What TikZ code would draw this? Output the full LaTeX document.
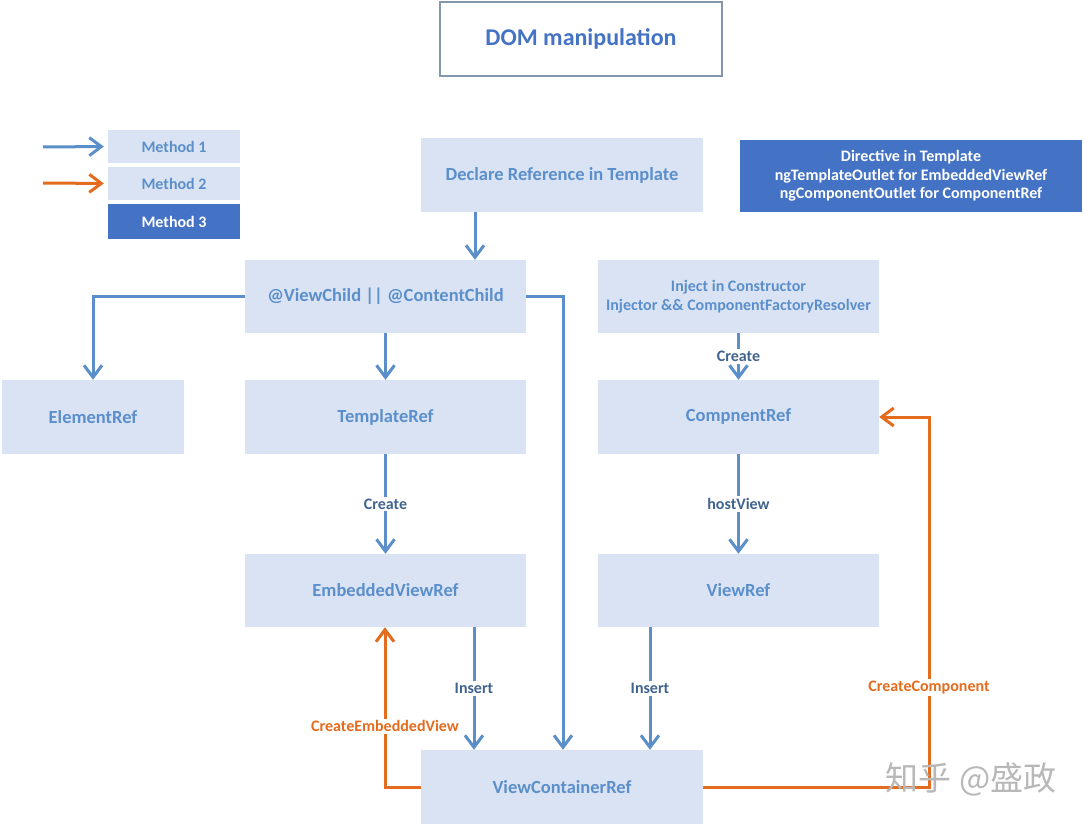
\documentclass[tikz,border=0pt]{standalone}
\usepackage{fontspec}
\setmainfont{Carlito}
\newfontfamily\cjk{Noto Sans CJK SC}
\usetikzlibrary{arrows.meta}
\definecolor{boxfill}{HTML}{DAE3F3}
\definecolor{txtblue}{HTML}{5B8FCB}
\definecolor{lbldark}{HTML}{41648F}
\definecolor{arrblue}{HTML}{5B8FC9}
\definecolor{orng}{HTML}{E46C1E}
\definecolor{darkfill}{HTML}{4472C4}
\definecolor{titlebd}{HTML}{8497B0}
\tikzset{
  box/.style={fill=boxfill, draw=none, inner sep=0pt, text=txtblue, font=\fontsize{18.5}{21}\selectfont\bfseries, align=center},
  dbox/.style={fill=darkfill, draw=none, inner sep=0pt, text=white, font=\fontsize{16}{18.5}\selectfont\bfseries, align=center},
  lbl/.style={fill=white, inner sep=2pt, text=lbldark, font=\fontsize{16}{18}\selectfont\bfseries},
  olbl/.style={fill=white, inner sep=2pt, text=orng, font=\fontsize{16}{18}\selectfont\bfseries},
  barrow/.style={draw=arrblue, line width=3pt, -{Straight Barb[length=12pt,width=18pt,line width=3pt]}},
  oarrow/.style={draw=orng, line width=3pt, -{Straight Barb[length=12pt,width=18pt,line width=3pt]}},
}
\begin{document}
\begin{tikzpicture}[x=1pt,y=-1pt]
\useasboundingbox (0,0) rectangle (1084,826);
% title
\node[draw=titlebd, line width=1.2pt, fill=white, minimum width=282pt, minimum height=74pt, inner sep=0pt, text=darkfill, font=\fontsize{24}{28}\selectfont\bfseries] (title) at (581,39) {DOM manipulation};
% legend
\node[box, minimum width=132pt, minimum height=33pt, font=\fontsize{16}{18}\selectfont\bfseries] (m1) at (174,146.5) {Method 1};
\node[box, minimum width=132pt, minimum height=33pt, font=\fontsize{16}{18}\selectfont\bfseries] (m2) at (174,183.5) {Method 2};
\node[dbox, minimum width=132pt, minimum height=35pt] (m3) at (174,221.5) {Method 3};
\coordinate (l1s) at (43,147);
\coordinate (l2s) at (43,183);
\draw[barrow, shorten >=4pt] (l1s) -- (m1.west);
\draw[oarrow, shorten >=4pt] (l2s) -- (m2.west);
% boxes
\node[box, minimum width=282pt, minimum height=74pt] (decl) at (562,175) {Declare Reference in Template};
\node[dbox, minimum width=342pt, minimum height=72pt] (dir) at (911,176) {Directive in Template\\ngTemplateOutlet for EmbeddedViewRef\\ngComponentOutlet for ComponentRef};
\node[box, minimum width=281pt, minimum height=73pt, font=\fontsize{16}{19}\selectfont\bfseries] (inj) at (738.5,296.5) {Inject in Constructor\\Injector \&\& ComponentFactoryResolver};
\node[box, minimum width=281pt, minimum height=73pt] (vc) at (385.5,296.5) {@ViewChild || @ContentChild};
\node[box, minimum width=182pt, minimum height=74pt] (el) at (93,417) {ElementRef};
\node[box, minimum width=281pt, minimum height=74pt] (tpl) at (385.5,417) {TemplateRef};
\node[box, minimum width=281pt, minimum height=74pt] (cmp) at (738.5,417) {CompnentRef};
\node[box, minimum width=281pt, minimum height=73pt] (emb) at (385.5,590.5) {EmbeddedViewRef};
\node[box, minimum width=281pt, minimum height=73pt] (vr) at (738.5,590.5) {ViewRef};
\node[box, minimum width=282pt, minimum height=74pt] (vcr) at (562,787) {ViewContainerRef};
% connectors
\draw[barrow] (decl.south -| 475,0) -- (vc.north -| 475,0);
\draw[barrow] (vc.west) -- (93,296.5) -- (el.north);
\draw[barrow] (vc.south) -- (tpl.north);
\draw[barrow] (vc.east) -- (563,296.5) -- (vcr.north -| 563,0);
\draw[barrow] (inj.south) -- node[lbl]{Create} (cmp.north);
\draw[barrow] (tpl.south) -- node[lbl]{Create} (emb.north);
\draw[barrow] (cmp.south) -- node[lbl]{hostView} (vr.north);
\draw[barrow] (emb.south -| 474,0) -- node[lbl, pos=0.5]{Insert} (vcr.north -| 474,0);
\draw[barrow] (vr.south -| 650,0) -- node[lbl, pos=0.5]{Insert} (vcr.north -| 650,0);
\draw[oarrow] (vcr.west) -- (385,787) -- node[olbl, pos=0.38]{CreateEmbeddedView} (emb.south -| 385,0);
\draw[oarrow] (vcr.east) -- (929,787) -- node[olbl, pos=0.27]{CreateComponent} (929,417) -- (cmp.east);
% watermark
\node[text=black!28, font=\cjk\fontsize{33}{40}\selectfont, inner sep=0pt] (wm) at (971,779) {知乎 @盛政};
\end{tikzpicture}
\end{document}
